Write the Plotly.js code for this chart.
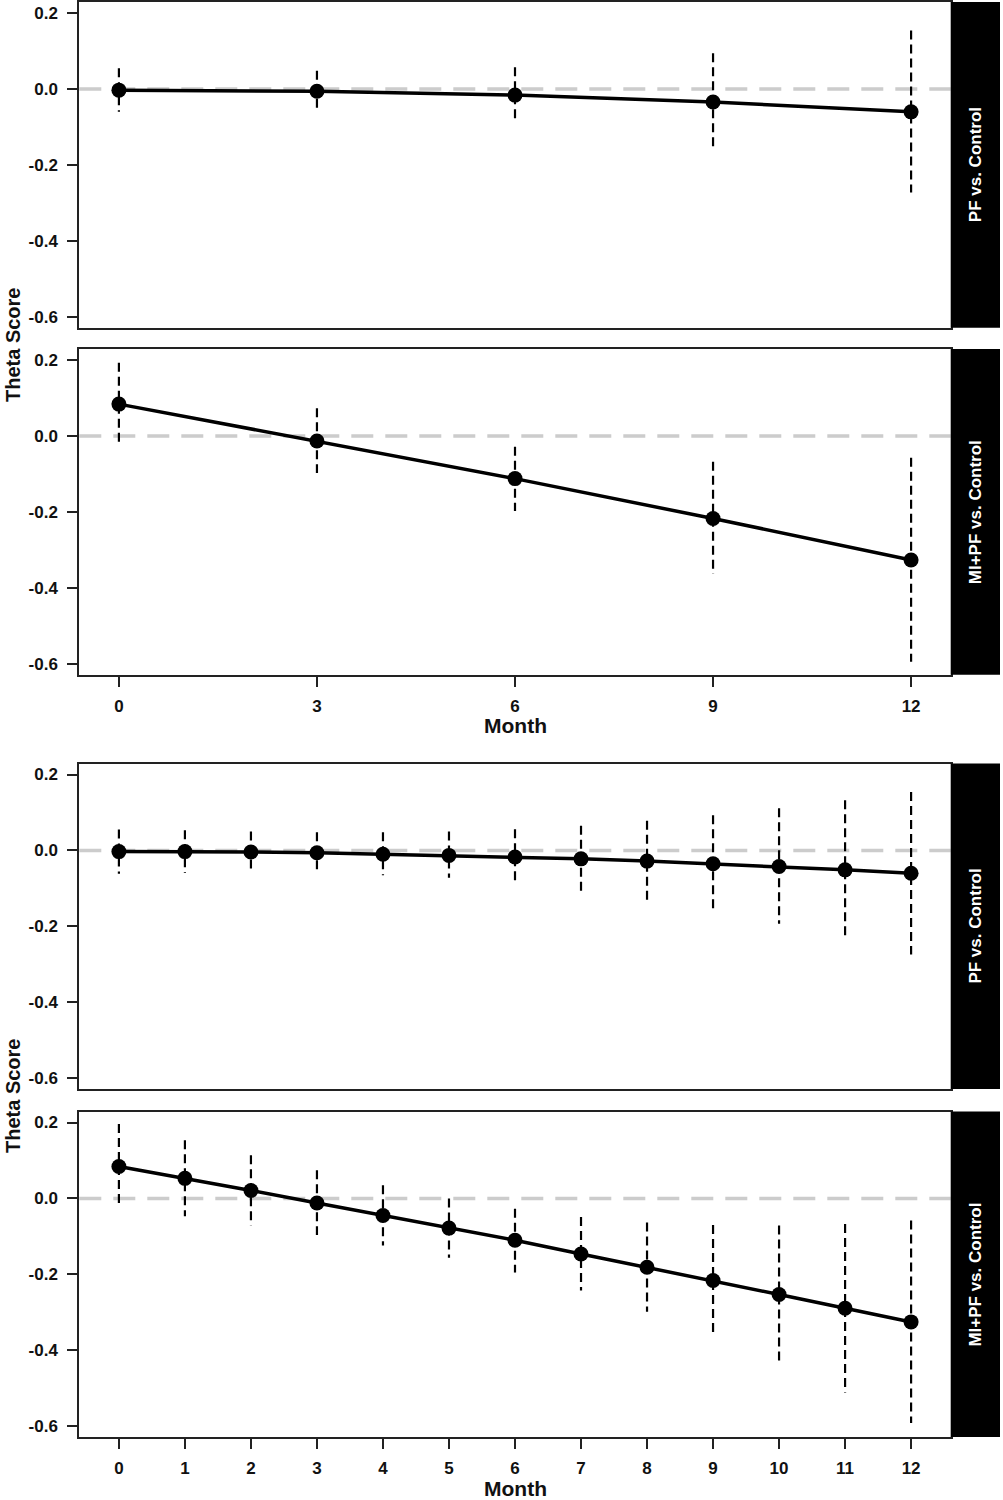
<!DOCTYPE html>
<html>
<head>
<meta charset="utf-8">
<script src="https://cdn.plot.ly/plotly-3.0.1.min.js"></script>
<style>html,body{margin:0;padding:0;background:#fff;}#chart{width:1003px;height:1500px;}</style>
</head>
<body>
<div id="chart"></div>
<script>
// ---- data ----
const monthsQuarterly = [0, 3, 6, 9, 12];
const pfQEst = [-0.003, -0.006, -0.016, -0.034, -0.060];
const pfQLo  = [-0.060, -0.058, -0.088, -0.161, -0.272];
const pfQHi  = [ 0.055,  0.048,  0.057,  0.094,  0.154];
const mipfQEst = [0.084, -0.013, -0.112, -0.217, -0.326];
const mipfQLo  = [-0.026, -0.097, -0.197, -0.363, -0.594];
const mipfQHi  = [0.193, 0.073, -0.028, -0.068, -0.057];

const monthsMonthly = [0, 1, 2, 3, 4, 5, 6, 7, 8, 9, 10, 11, 12];
const pfMEst = [-0.003, -0.003, -0.004, -0.006, -0.010, -0.013, -0.017, -0.022, -0.028, -0.035, -0.042, -0.051, -0.060];
const pfMLo  = [-0.061, -0.059, -0.057, -0.060, -0.065, -0.072, -0.088, -0.107, -0.132, -0.162, -0.193, -0.233, -0.274];
const pfMHi  = [0.055, 0.053, 0.050, 0.048, 0.048, 0.050, 0.056, 0.065, 0.078, 0.093, 0.111, 0.132, 0.154];
const mipfMEst = [0.084, 0.053, 0.021, -0.012, -0.045, -0.078, -0.110, -0.146, -0.181, -0.216, -0.253, -0.289, -0.325];
const mipfMLo  = [-0.025, -0.047, -0.071, -0.096, -0.124, -0.156, -0.195, -0.242, -0.298, -0.363, -0.433, -0.511, -0.591];
const mipfMHi  = [0.196, 0.153, 0.114, 0.074, 0.035, 0.000, -0.027, -0.049, -0.063, -0.070, -0.071, -0.067, -0.058];

const yTickVals = [-0.6, -0.4, -0.2, 0.0, 0.2];
const yTickText = ['-0.6', '-0.4', '-0.2', '0.0', '0.2'];
const stripLabels = ['PF vs. Control', 'MI+PF vs. Control', 'PF vs. Control', 'MI+PF vs. Control'];
const yLabel = 'Theta Score';
const xLabel = 'Month';

// ---- build ----
const FONT = '"Liberation Sans", Arial, Helvetica, sans-serif';
const panels = [
  {x: monthsQuarterly, est: pfQEst, lo: pfQLo, hi: pfQHi},
  {x: monthsQuarterly, est: mipfQEst, lo: mipfQLo, hi: mipfQHi},
  {x: monthsMonthly, est: pfMEst, lo: pfMLo, hi: pfMHi},
  {x: monthsMonthly, est: mipfMEst, lo: mipfMLo, hi: mipfMHi}
];

const H = 1500, W = 1003;
const plotL = 79.3 / W, plotR = 950.7 / W, stripR = 1000 / W;
const boxes = [[2, 327.7], [349, 674.7], [763.5, 1089], [1111.5, 1437]];

const traces = [];
const layout = {
  width: W, height: H,
  margin: {l: 0, r: 0, t: 0, b: 0},
  paper_bgcolor: '#fff', plot_bgcolor: '#fff',
  showlegend: false,
  font: {family: FONT, color: '#111'},
  shapes: [], annotations: []
};

panels.forEach((p, i) => {
  const n = i + 1;
  const xa = 'x' + (n === 1 ? '' : n), ya = 'y' + (n === 1 ? '' : n);
  const xk = 'xaxis' + (n === 1 ? '' : n), yk = 'yaxis' + (n === 1 ? '' : n);
  // CI segments, drawn from upper to lower bound
  const ex = [], ey = [];
  p.x.forEach((m, k) => { ex.push(m, m, null); ey.push(p.hi[k], p.lo[k], null); });
  traces.push({x: ex, y: ey, xaxis: xa, yaxis: ya, mode: 'lines', type: 'scatter',
    line: {color: '#000', width: 2.2, dash: '9px,5px'}, hoverinfo: 'skip', connectgaps: false});
  traces.push({x: p.x, y: p.est, xaxis: xa, yaxis: ya, mode: 'lines+markers', type: 'scatter',
    line: {color: '#000', width: 3.5}, marker: {color: '#000', size: 15}});

  const bottomPanel = (n === 2 || n === 4);
  const dom = [1 - boxes[i][1] / H, 1 - boxes[i][0] / H];
  layout[xk] = {
    domain: [plotL, plotR], anchor: ya, range: [-0.6, 12.6],
    showline: true, mirror: true, linecolor: '#222', linewidth: 2,
    showgrid: false, zeroline: false, fixedrange: true,
    tickvals: p.x, ticktext: p.x.map(String),
    ticks: bottomPanel ? 'outside' : '', ticklen: 10, tickwidth: 2, tickcolor: '#222',
    showticklabels: bottomPanel, ticklabelstandoff: 5,
    tickfont: {family: FONT, size: 17, weight: 700, color: '#111'}
  };
  layout[yk] = {
    domain: dom, anchor: xa, range: [-0.628, 0.229],
    showline: true, mirror: true, linecolor: '#222', linewidth: 2,
    showgrid: false, zeroline: false, fixedrange: true,
    tickvals: yTickVals, ticktext: yTickText,
    ticks: 'outside', ticklen: 10, tickwidth: 2, tickcolor: '#222', ticklabelstandoff: 6,
    tickfont: {family: FONT, size: 17, weight: 700, color: '#111'}
  };
  // reference line at zero
  layout.shapes.push({type: 'line', xref: xa + ' domain', x0: 0, x1: 1, yref: ya, y0: 0, y1: 0,
    line: {color: '#cccccc', width: 3.5, dash: '22px,12px'}, layer: 'below'});
  // strip
  layout.shapes.push({type: 'rect', xref: 'paper', x0: plotR, x1: stripR, yref: 'paper', y0: dom[0], y1: dom[1],
    fillcolor: '#000', line: {width: 0}, layer: 'above'});
  layout.annotations.push({text: stripLabels[i], xref: 'paper', x: (plotR + stripR) / 2, yref: 'paper', y: (dom[0] + dom[1]) / 2,
    textangle: -90, showarrow: false, xanchor: 'center', yanchor: 'middle',
    font: {family: FONT, size: 17, weight: 700, color: '#fff'}});
  if (bottomPanel) {
    layout.annotations.push({text: xLabel, xref: 'paper', x: (plotL + plotR) / 2, yref: 'paper',
      y: 1 - (boxes[i][1] + 51) / H, showarrow: false, xanchor: 'center', yanchor: 'middle',
      font: {family: FONT, size: 21, weight: 700, color: '#111'}});
  }
});
// y-axis titles for each pair of panels
[[0, 1, 345], [2, 3, 1096]].forEach(([a, b, mid]) => {
  layout.annotations.push({text: yLabel, xref: 'paper', x: 13 / W, yref: 'paper', y: 1 - mid / H,
    textangle: -90, showarrow: false, xanchor: 'center', yanchor: 'middle',
    font: {family: FONT, size: 20, weight: 700, color: '#111'}});
});

Plotly.newPlot('chart', traces, layout, {displayModeBar: false, staticPlot: true});
</script>
</body>
</html>
